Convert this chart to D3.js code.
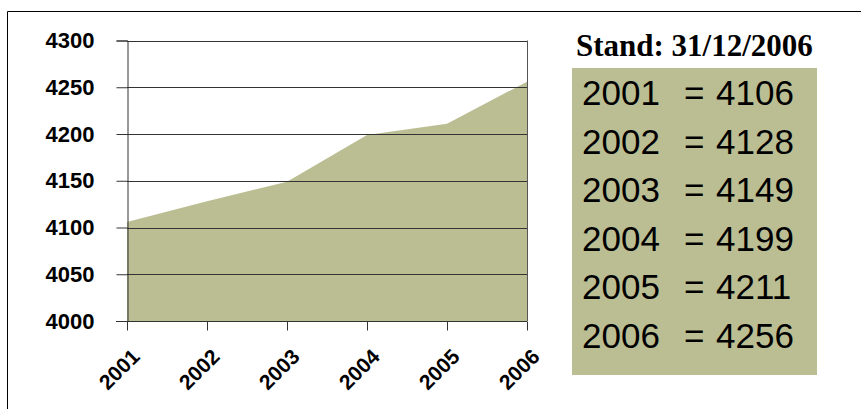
<!DOCTYPE html>
<html><head><meta charset="utf-8">
<script src="https://cdn.jsdelivr.net/npm/d3@7"></script>
<style>body{margin:0;background:#fff}svg{display:block}</style>
</head><body>
<script>
const years = ["2001","2002","2003","2004","2005","2006"];
const values = [4106, 4128, 4149, 4199, 4211, 4256];
const yTicks = [4000, 4050, 4100, 4150, 4200, 4250, 4300];
const title = "Stand: 31/12/2006";

const W = 861, H = 409;
const svg = d3.select("body").append("svg").attr("width", W).attr("height", H);
const fill = "#bbbe93";

// outer frame
svg.append("path").attr("d", "M7.5,409 L7.5,11.5 L861,11.5").attr("fill","none").attr("stroke","#000").attr("stroke-width",1);

const x = d3.scalePoint().domain(years).range([127, 527]);
const y = d3.scaleLinear().domain([4000, 4300]).range([321, 40.5]);

const data = years.map((yr,i)=>({yr, v: values[i]}));
svg.append("path").datum(data)
  .attr("d", d3.area().x(d=>x(d.yr)).y0(y(4000)).y1(d=>y(d.v)))
  .attr("fill", fill);

// gridlines
svg.append("g").selectAll("line").data(yTicks.slice(1)).join("line")
  .attr("x1",127).attr("x2",527).attr("y1",d=>Math.round(y(d))+0.5).attr("y2",d=>Math.round(y(d))+0.5)
  .attr("stroke","#333").attr("stroke-width",1);
// right frame
svg.append("line").attr("x1",527.5).attr("x2",527.5).attr("y1",y(4300)).attr("y2",y(4000)).attr("stroke","#555");

const yAxis = svg.append("g").attr("transform","translate(127.5,0)")
  .call(d3.axisLeft(y).tickValues(yTicks).tickSize(11).tickPadding(22).tickFormat(d3.format("d")));
yAxis.select(".domain").attr("stroke","#333");
yAxis.selectAll(".tick line").attr("stroke","#333");
yAxis.selectAll("text").attr("font-family","Liberation Sans, Arial, sans-serif").attr("font-weight","bold").attr("font-size",22).attr("fill","#000");

const xAxis = svg.append("g").attr("transform",`translate(0,${Math.round(y(4000))+0.5})`)
  .call(d3.axisBottom(x).tickSize(9).tickSizeOuter(0));
xAxis.select(".domain").attr("stroke","#333").attr("d","M116,0H527");
xAxis.selectAll(".tick line").attr("stroke","#333");
xAxis.selectAll("text")
  .attr("font-family","Liberation Sans, Arial, sans-serif").attr("font-weight","bold").attr("font-size",21).attr("fill","#000")
  .attr("text-anchor","end").attr("dy","0.7em").attr("y",0)
  .attr("transform","translate(3,26) rotate(-45)");

// right panel
svg.append("text").attr("x",576).attr("y",56).text(title)
  .attr("font-family","Liberation Serif, Times New Roman, serif").attr("font-weight","bold").attr("font-size",31).attr("fill","#000");
svg.append("rect").attr("x",572).attr("y",68).attr("width",245).attr("height",307).attr("fill",fill);
const rows = svg.append("g");
data.forEach((d,i)=>{
  const yy = 105 + i*48.6;
  const tf = t => t.attr("font-family","Liberation Sans, Arial, sans-serif").attr("font-size",35).attr("fill","#000").attr("y",yy);
  rows.append("text").attr("x",582).text(d.yr).call(tf);
  rows.append("text").attr("x",684).text("=").call(tf);
  rows.append("text").attr("x",716).text(d.v).call(tf);
});
</script>
</body></html>
